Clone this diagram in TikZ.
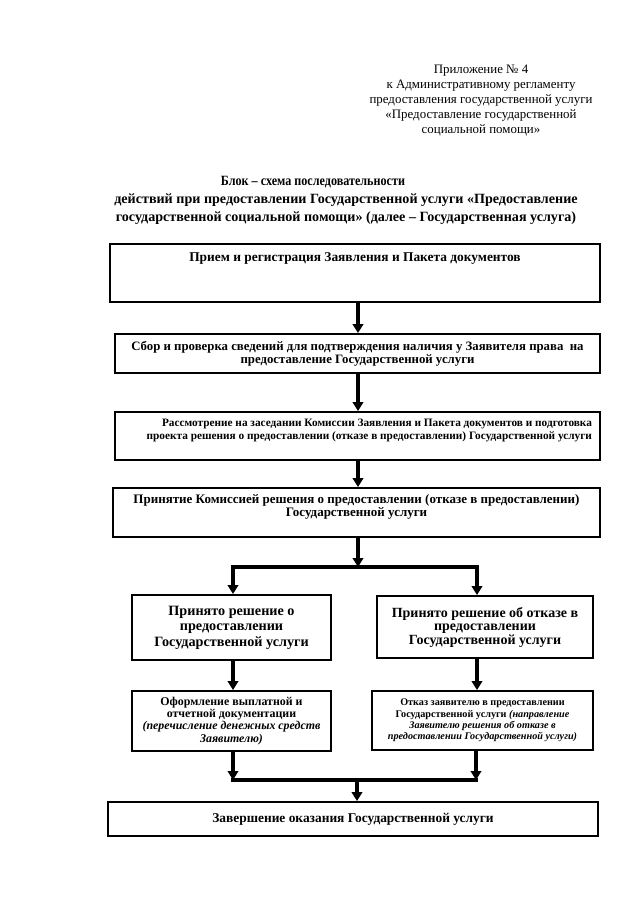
\documentclass[tikz,border=0pt]{standalone}
\usepackage{fontspec}
\setmainfont{Liberation Serif}
\usetikzlibrary{arrows.meta}
\newcommand\fsz[2]{\fontsize{#1}{#2}\selectfont}
\begin{document}
\begin{tikzpicture}[x=1pt,y=-1pt,
  frame/.style={draw,line width=1.9pt,inner sep=0pt,font=\bfseries},
  flow/.style={line width=3.2pt,-{Triangle[width=10.5pt,length=9pt]}},
  bar/.style={line width=3.2pt,line cap=rect}]
\useasboundingbox (0,0) rectangle (640,905);
% header
\node[align=center,font=\fsz{12.9}{15}] (hdr) at (481,100.5)
 {Приложение № 4\\к Административному регламенту\\предоставления государственной услуги\\«Предоставление государственной\\социальной помощи»};
\node[align=center,font=\bfseries\fsz{14.1}{18}] (ttl) at (346,200.5)
 {\scalebox{0.86}[1]{Блок – схема последовательности}\hspace*{66pt}\\действий при предоставлении Государственной услуги «Предоставление\\государственной социальной помощи» (далее – Государственная услуга)};
% boxes
\node[frame] (b1) at (355,273) {\parbox[c][58pt][t]{490pt}{\centering\fsz{13.4}{15}\vspace*{9pt}Прием и регистрация Заявления и Пакета документов\par}};
\node[frame] (b2) at (357.5,353.5) {\parbox[c][39pt][c]{485pt}{\centering\fsz{12.8}{13}Сбор и проверка сведений для подтверждения наличия у Заявителя права\ \ на\\предоставление Государственной услуги\par}};
\node[frame] (b3) at (357.5,436) {\parbox[c][48pt][t]{485pt}{\raggedleft\rightskip=8pt\fsz{11.3}{13}\vspace*{7pt}Рассмотрение на заседании Комиссии Заявления и Пакета документов и подготовка\\проекта решения о предоставлении (отказе в предоставлении) Государственной услуги\par}};
\node[frame] (b4) at (356.5,512.5) {\parbox[c][49pt][t]{487pt}{\centering\fsz{13}{13}\vspace*{6pt}Принятие Комиссией решения о предоставлении (отказе в предоставлении)\\Государственной услуги\par}};
\node[frame] (b5) at (231.5,627.5) {\parbox[c][65pt][c]{199pt}{\centering\fsz{14.2}{15.5}Принято решение о\\предоставлении\\Государственной услуги\par}};
\node[frame] (b6) at (485,627) {\parbox[c][62pt][c]{216pt}{\centering\fsz{14}{13.5}Принято решение об отказе в\\предоставлении\\Государственной услуги\par}};
\node[frame] (b7) at (231.5,721) {\parbox[c][60pt][c]{199pt}{\centering\fsz{11.9}{12.2}Оформление выплатной и\\отчетной документации\\\textit{(перечисление денежных средств\\Заявителю)}\par}};
\node[frame] (b8) at (482.5,720.5) {\parbox[c][59pt][c]{221pt}{\centering\fsz{10.2}{11.4}Отказ заявителю в предоставлении\\Государственной услуги \textit{(направление\\Заявителю решения об отказе в\\предоставлении Государственной услуги)}\par}};
\node[frame] (b9) at (353,819) {\parbox[c][34pt][c]{490pt}{\centering\fsz{13.4}{14}Завершение оказания Государственной услуги\par}};
% connector coordinates
\coordinate (sp) at (358,0);
\coordinate (jL) at (233,567);
\coordinate (jM) at (358,567);
\coordinate (jR) at (477,567);
\coordinate (kL) at (233,780);
\coordinate (kM) at (357,780);
\coordinate (kR) at (476,780);
% connectors
\draw[flow] (b1.south -| sp) -- (b2.north -| sp);
\draw[flow] (b2.south -| sp) -- (b3.north -| sp);
\draw[flow] (b3.south -| sp) -- (b4.north -| sp);
\draw[flow] (b4.south -| sp) -- (jM);
\draw[bar] (jL) -- (jR);
\draw[flow] (jL) -- (b5.north -| jL);
\draw[flow] (jR) -- (b6.north -| jR);
\draw[flow] (b5.south -| jL) -- (b7.north -| jL);
\draw[flow] (b6.south -| jR) -- (b8.north -| jR);
\draw[flow] (b7.south -| kL) -- (kL);
\draw[flow] (b8.south -| kR) -- (kR);
\draw[bar] (kL) -- (kR);
\draw[flow] (kM) -- (b9.north -| kM);
\end{tikzpicture}
\end{document}
